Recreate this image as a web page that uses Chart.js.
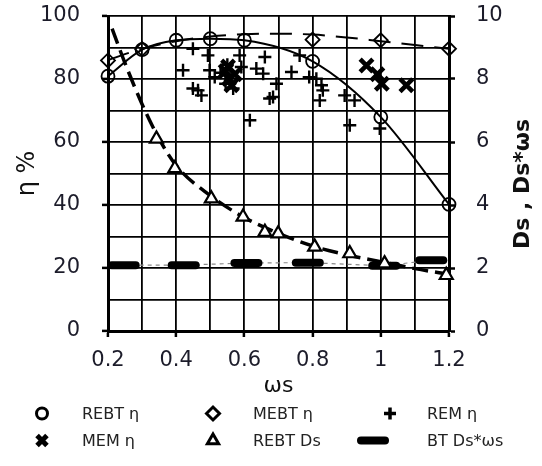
<!DOCTYPE html>
<html><head><meta charset="utf-8">
<script src="https://cdn.jsdelivr.net/npm/chart.js@4.4.1/dist/chart.umd.min.js"></script>
<style>html,body{margin:0;padding:0;background:#fff;}#wrap{width:542px;height:466px;}</style>
</head><body><div id="wrap"><canvas id="c" width="542" height="466"></canvas></div>
<script>
// ---- data ----
const xTickLabels = ['0.2','0.4','0.6','0.8','1','1.2'];
const yTickLabels = ['0','20','40','60','80','100'];
const y2TickLabels = ['0','2','4','6','8','10'];

const rebtX   = [0.2, 0.3, 0.4, 0.5, 0.6, 0.8, 1.0, 1.2];
const rebtEta = [80.9, 89.3, 92.3, 92.8, 92.3, 85.6, 67.9, 40.2];

const mebtX   = [0.2, 0.3, 0.8, 1.0, 1.2];
const mebtEta = [85.9, 89.5, 92.5, 92.3, 89.6];
const mebtFitX = [0.2, 0.3, 0.4, 0.5, 0.6, 0.7, 0.8, 0.9, 1.0, 1.1, 1.2];
const mebtFitY = [86.0, 89.6, 92.0, 93.5, 94.2, 94.4, 94.1, 93.2, 92.0, 90.8, 89.6];

const remX   = [0.449, 0.420, 0.493, 0.464, 0.449, 0.474, 0.498, 0.513, 0.530, 0.550, 0.545, 0.586, 0.591, 0.567, 0.635, 0.660, 0.655, 0.674, 0.616, 0.694, 0.684, 0.762, 0.738, 0.790, 0.811, 0.826, 0.830, 0.821, 0.894, 0.923, 0.909, 0.997];
const remEta = [89.6, 82.8, 87.5, 76.4, 77.0, 74.8, 82.8, 80.6, 82.0, 84.5, 78.5, 87.5, 83.8, 77.0, 83.3, 87.0, 81.7, 73.8, 66.9, 78.5, 74.3, 87.5, 82.2, 80.6, 80.1, 78.0, 76.4, 73.2, 74.8, 73.2, 65.3, 64.3];

const memX   = [0.545, 0.555, 0.562, 0.572, 0.552, 0.958, 0.990, 1.003, 1.075];
const memEta = [82.5, 80.0, 78.0, 81.5, 84.0, 84.3, 81.5, 78.5, 78.0];

const rebtDsX = [0.342, 0.396, 0.503, 0.596, 0.660, 0.699, 0.806, 0.909, 1.011, 1.192];
const rebtDs  = [6.10, 5.16, 4.20, 3.62, 3.14, 3.09, 2.67, 2.46, 2.14, 1.77];
const rebtDsFitX = [0.212, 0.25, 0.30, 0.35, 0.40, 0.50, 0.60, 0.70, 0.80, 0.90, 1.00, 1.10, 1.20];
const rebtDsFitY = [9.6, 8.5, 7.2, 6.1, 5.25, 4.3, 3.6, 3.1, 2.7, 2.42, 2.2, 1.98, 1.8];

const btX  = [0.246, 0.422, 0.606, 0.786, 1.010, 1.148];
const btDs = [2.09, 2.09, 2.16, 2.17, 2.07, 2.25];

const pts = (xs, ys) => xs.map((x, i) => ({x: x, y: ys[i]}));
const FONT = '"DejaVu Sans", sans-serif';
const TXT = '#1c1c2a';

const datasets = [
  {label: 'REBT Ds', data: pts(rebtDsX, rebtDs), yAxisID: 'y2', showLine: false,
   pointStyle: 'triangle', pointRadius: 7.5, pointBorderWidth: 2.2, pointBorderColor: '#000', pointBackgroundColor: '#fff',
   legend: {style: 'triangle', r: 6.5, w: 3, fill: '#fff'}},
  {label: 'REBT η', data: pts(rebtX, rebtEta), yAxisID: 'y', showLine: true, borderColor: '#000', borderWidth: 2,
   cubicInterpolationMode: 'monotone', pointStyle: 'circle', pointRadius: 6.5, pointBorderWidth: 1.8,
   pointBorderColor: '#000', pointBackgroundColor: 'rgba(255,255,255,0)',
   legend: {style: 'circle', r: 5.5, w: 3, fill: '#fff'}},
  {label: 'MEBT η', data: pts(mebtX, mebtEta), yAxisID: 'y', showLine: false,
   pointStyle: 'rectRot', pointRadius: 7, pointBorderWidth: 1.8, pointBorderColor: '#000', pointBackgroundColor: 'rgba(255,255,255,0)',
   legend: {style: 'rectRot', r: 6.5, w: 3, fill: '#fff'}},
  {label: 'MEM η', data: pts(memX, memEta), yAxisID: 'y', showLine: false,
   pointStyle: 'crossRot', pointRadius: 9, pointBorderWidth: 4.5, pointBorderColor: '#000',
   legend: {style: 'crossRot', r: 7, w: 5, fill: '#000'}},
  {label: 'REM η', data: pts(remX, remEta), yAxisID: 'y', showLine: false,
   pointStyle: 'cross', pointRadius: 6.5, pointBorderWidth: 2.4, pointBorderColor: '#000',
   legend: {style: 'cross', r: 6, w: 3.5, fill: '#000'}},
  {label: 'BT Ds*ωs', data: pts(btX, btDs), yAxisID: 'y2', showLine: true, borderColor: '#8a8a8a', borderWidth: 1.2,
   borderDash: [4, 4], pointStyle: 'line', pointRadius: 12, pointBorderWidth: 8, pointBorderColor: '#000', roundCap: true,
   legend: {style: 'line', r: 12, w: 8, fill: '#000'}},
  {label: 'MEBT η fit', data: pts(mebtFitX, mebtFitY), yAxisID: 'y', showLine: true, borderColor: '#000', borderWidth: 2,
   borderDash: [22, 11], cubicInterpolationMode: 'monotone', pointRadius: 0},
  {label: 'REBT Ds fit', data: pts(rebtDsFitX, rebtDsFitY), yAxisID: 'y2', showLine: true, borderColor: '#000', borderWidth: 3.5,
   borderDash: [16, 7], cubicInterpolationMode: 'monotone', pointRadius: 0}
];
datasets.forEach(d => { d.clip = false; });

const legendOrder = ['REBT η', 'MEBT η', 'REM η', 'MEM η', 'REBT Ds', 'BT Ds*ωs'];

function drawMarker(ctx, m, x, y) {
  ctx.save();
  ctx.strokeStyle = '#000';
  ctx.fillStyle = m.fill;
  ctx.lineWidth = m.w;
  ctx.lineCap = m.style === 'line' ? 'round' : 'butt';
  if (Chart.helpers && Chart.helpers.drawPoint) {
    Chart.helpers.drawPoint(ctx, {pointStyle: m.style, radius: m.r, borderWidth: m.w, rotation: 0}, x, y);
  }
  ctx.restore();
}

const customDraw = {
  id: 'customDraw',
  beforeDatasetDraw(chart, args) {
    if (chart.data.datasets[args.index].roundCap) chart.ctx.lineCap = 'round';
  },
  afterDatasetDraw(chart, args) {
    chart.ctx.lineCap = 'butt';
  },
  afterDraw(chart) {
    const ctx = chart.ctx;
    // right axis title (reads bottom to top)
    ctx.save();
    ctx.translate(523, 184);
    ctx.rotate(-Math.PI / 2);
    ctx.font = 'bold 22px ' + FONT;
    ctx.fillStyle = '#111';
    ctx.textAlign = 'center';
    ctx.textBaseline = 'middle';
    ctx.fillText('Ds , Ds*ωs', 0, 0);
    ctx.restore();
    // legend: 3 columns x 2 rows
    const colM = [42, 213, 390], colT = [82, 253, 427], rowY = [413.5, 440.5];
    legendOrder.forEach((lab, i) => {
      const ds = chart.data.datasets.find(d => d.label === lab);
      const c = i % 3, r = Math.floor(i / 3);
      let mx = colM[c];
      if (ds.legend.style === 'line') mx = 373;
      drawMarker(ctx, ds.legend, mx, rowY[r]);
      ctx.save();
      ctx.font = '16px ' + FONT;
      ctx.fillStyle = '#222';
      ctx.textAlign = 'left';
      ctx.textBaseline = 'middle';
      ctx.fillText(ds.label, colT[c], rowY[r] + 1);
      ctx.restore();
    });
  }
};

const labelFrom = (list, v, dec) => {
  const s = String(Math.round(v * dec) / dec);
  return list.includes(s) ? s : '';
};
const majorColor = (list, dec) => (c) => (c.tick && labelFrom(list, c.tick.value, dec) !== '') ? '#000' : 'rgba(0,0,0,0)';
const fitV = (w) => (s) => { s.width = w; s.paddingTop = 0; s.paddingBottom = 0; };

new Chart(document.getElementById('c'), {
  type: 'scatter',
  data: {datasets: datasets},
  plugins: [customDraw],
  options: {
    responsive: false,
    animation: false,
    devicePixelRatio: 1,
    layout: {autoPadding: false, padding: {top: 16, bottom: 60, left: 0, right: 0}},
    plugins: {legend: {display: false}, tooltip: {enabled: false}},
    scales: {
      x: {
        type: 'linear', min: 0.2, max: 1.2,
        afterFit: s => { s.height = 75; s.paddingLeft = 0; s.paddingRight = 0; },
        ticks: {stepSize: 0.1, autoSkip: false, maxRotation: 0, padding: 11, color: TXT,
                font: {family: FONT, size: 21}, callback: v => labelFrom(xTickLabels, v, 10)},
        grid: {color: '#000', lineWidth: 1.8, tickLength: 6, tickWidth: 2.5, tickColor: majorColor(xTickLabels, 10)},
        border: {color: '#000', width: 3},
        title: {display: true, text: 'ωs', color: '#111', font: {family: FONT, size: 22}, padding: {top: 0, bottom: 7}}
      },
      y: {
        type: 'linear', position: 'left', min: 0, max: 100,
        afterFit: fitV(108),
        ticks: {stepSize: 10, autoSkip: false, padding: 22, color: TXT,
                font: {family: FONT, size: 21}, callback: v => labelFrom(yTickLabels, v, 1)},
        grid: {color: '#000', lineWidth: 1.8, tickLength: 6, tickWidth: 2.5, tickColor: majorColor(yTickLabels, 1)},
        border: {color: '#000', width: 3},
        title: {display: true, text: 'η %', color: '#111', font: {family: FONT, size: 24}, padding: {top: 13, bottom: 0}}
      },
      y2: {
        type: 'linear', position: 'right', min: 0, max: 10,
        afterFit: fitV(93),
        ticks: {stepSize: 1, autoSkip: false, padding: 21, color: TXT,
                font: {family: FONT, size: 21}, callback: v => labelFrom(y2TickLabels, v, 1)},
        grid: {drawOnChartArea: false, tickLength: 6, tickWidth: 2.5, tickColor: majorColor(y2TickLabels, 1)},
        border: {color: '#000', width: 3}
      }
    }
  }
});
</script></body></html>
